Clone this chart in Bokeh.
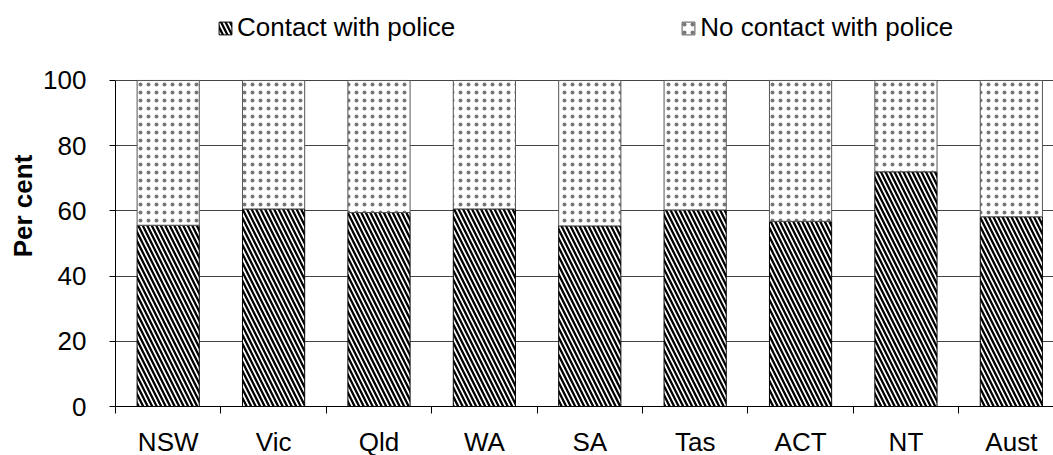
from bokeh.plotting import figure
from bokeh.models import (ColumnDataSource, Range1d, FixedTicker, Legend, LegendItem)
from bokeh.embed import file_html
from bokeh.resources import INLINE

# ---- data ----
categories = ["NSW", "Vic", "Qld", "WA", "SA", "Tas", "ACT", "NT", "Aust"]
contact = [55.6, 60.6, 59.5, 60.6, 55.4, 60.3, 56.8, 72.0, 58.2]
no_contact = [round(100 - c, 1) for c in contact]
y_ticks = [0, 20, 40, 60, 80, 100]

x_pos = [i + 0.5 for i in range(len(categories))]
source = ColumnDataSource(dict(x=x_pos, cat=categories, contact=contact, nocontact=no_contact))

FONT = "Liberation Sans"

# frame extends above 100 so the legend can sit inside it (top area is empty)
p = figure(width=1053, height=459, output_backend="svg", toolbar_location=None,
           x_range=Range1d(0, 8.9), y_range=Range1d(0, 123.0),
           min_border_left=115, min_border_right=0, min_border_top=5, min_border_bottom=40)
p.outline_line_color = None
p.background_fill_color = "white"
p.border_fill_color = "white"

rs = p.vbar_stack(["contact", "nocontact"], x="x", width=0.59, source=source,
                  fill_color=["white", "white"], line_color=["black", "#555555"], line_width=1,
                  hatch_pattern=["\\", "."], hatch_color=["black", "#777777"],
                  hatch_scale=[9, 8], hatch_weight=[2.3, 1.3])

# grid
p.xgrid.grid_line_color = None
p.ygrid.grid_line_color = "#444444"
p.ygrid.grid_line_width = 1
p.ygrid.ticker = FixedTicker(ticks=y_ticks)

# y axis
p.yaxis.ticker = FixedTicker(ticks=y_ticks)
p.yaxis.bounds = (0, 100)
p.yaxis.axis_label = "Per cent"
p.yaxis.axis_label_text_font = FONT
p.yaxis.axis_label_text_font_style = "bold"
p.yaxis.axis_label_text_font_size = "26px"
p.yaxis.axis_label_text_color = "black"
p.yaxis.axis_label_standoff = 2
p.yaxis.major_label_text_font = FONT
p.yaxis.major_label_text_font_size = "26px"
p.yaxis.major_label_text_color = "black"
p.yaxis.major_tick_out = 6
p.yaxis.major_tick_in = 0
p.yaxis.minor_tick_line_color = None
p.yaxis.major_label_standoff = 23
p.yaxis.axis_line_color = "black"
p.yaxis.major_tick_line_color = "black"

# x axis
p.xaxis.ticker = FixedTicker(ticks=x_pos, minor_ticks=list(range(len(categories))))
p.xaxis.major_label_overrides = {x: c for x, c in zip(x_pos, categories)}
p.xaxis.major_label_text_font = FONT
p.xaxis.major_label_text_font_size = "26px"
p.xaxis.major_label_text_color = "black"
p.xaxis.major_tick_out = 0
p.xaxis.major_tick_in = 0
p.xaxis.major_tick_line_color = None
p.xaxis.minor_tick_out = 7
p.xaxis.minor_tick_in = 0
p.xaxis.minor_tick_line_color = "black"
p.xaxis.major_label_standoff = 13
p.xaxis.axis_line_color = "black"

# legend
legend = Legend(items=[LegendItem(label="Contact with police", renderers=[rs[0]]),
                       LegendItem(label="No contact with police", renderers=[rs[1]])],
                location=(102, 363), orientation="horizontal",
                glyph_width=16, glyph_height=16, label_standoff=4, spacing=225,
                padding=0, margin=0, border_line_color=None, background_fill_alpha=0,
                label_text_font=FONT, label_text_font_size="26px", label_text_color="black")
p.add_layout(legend)

open("out.html", "w").write(file_html(p, INLINE))
